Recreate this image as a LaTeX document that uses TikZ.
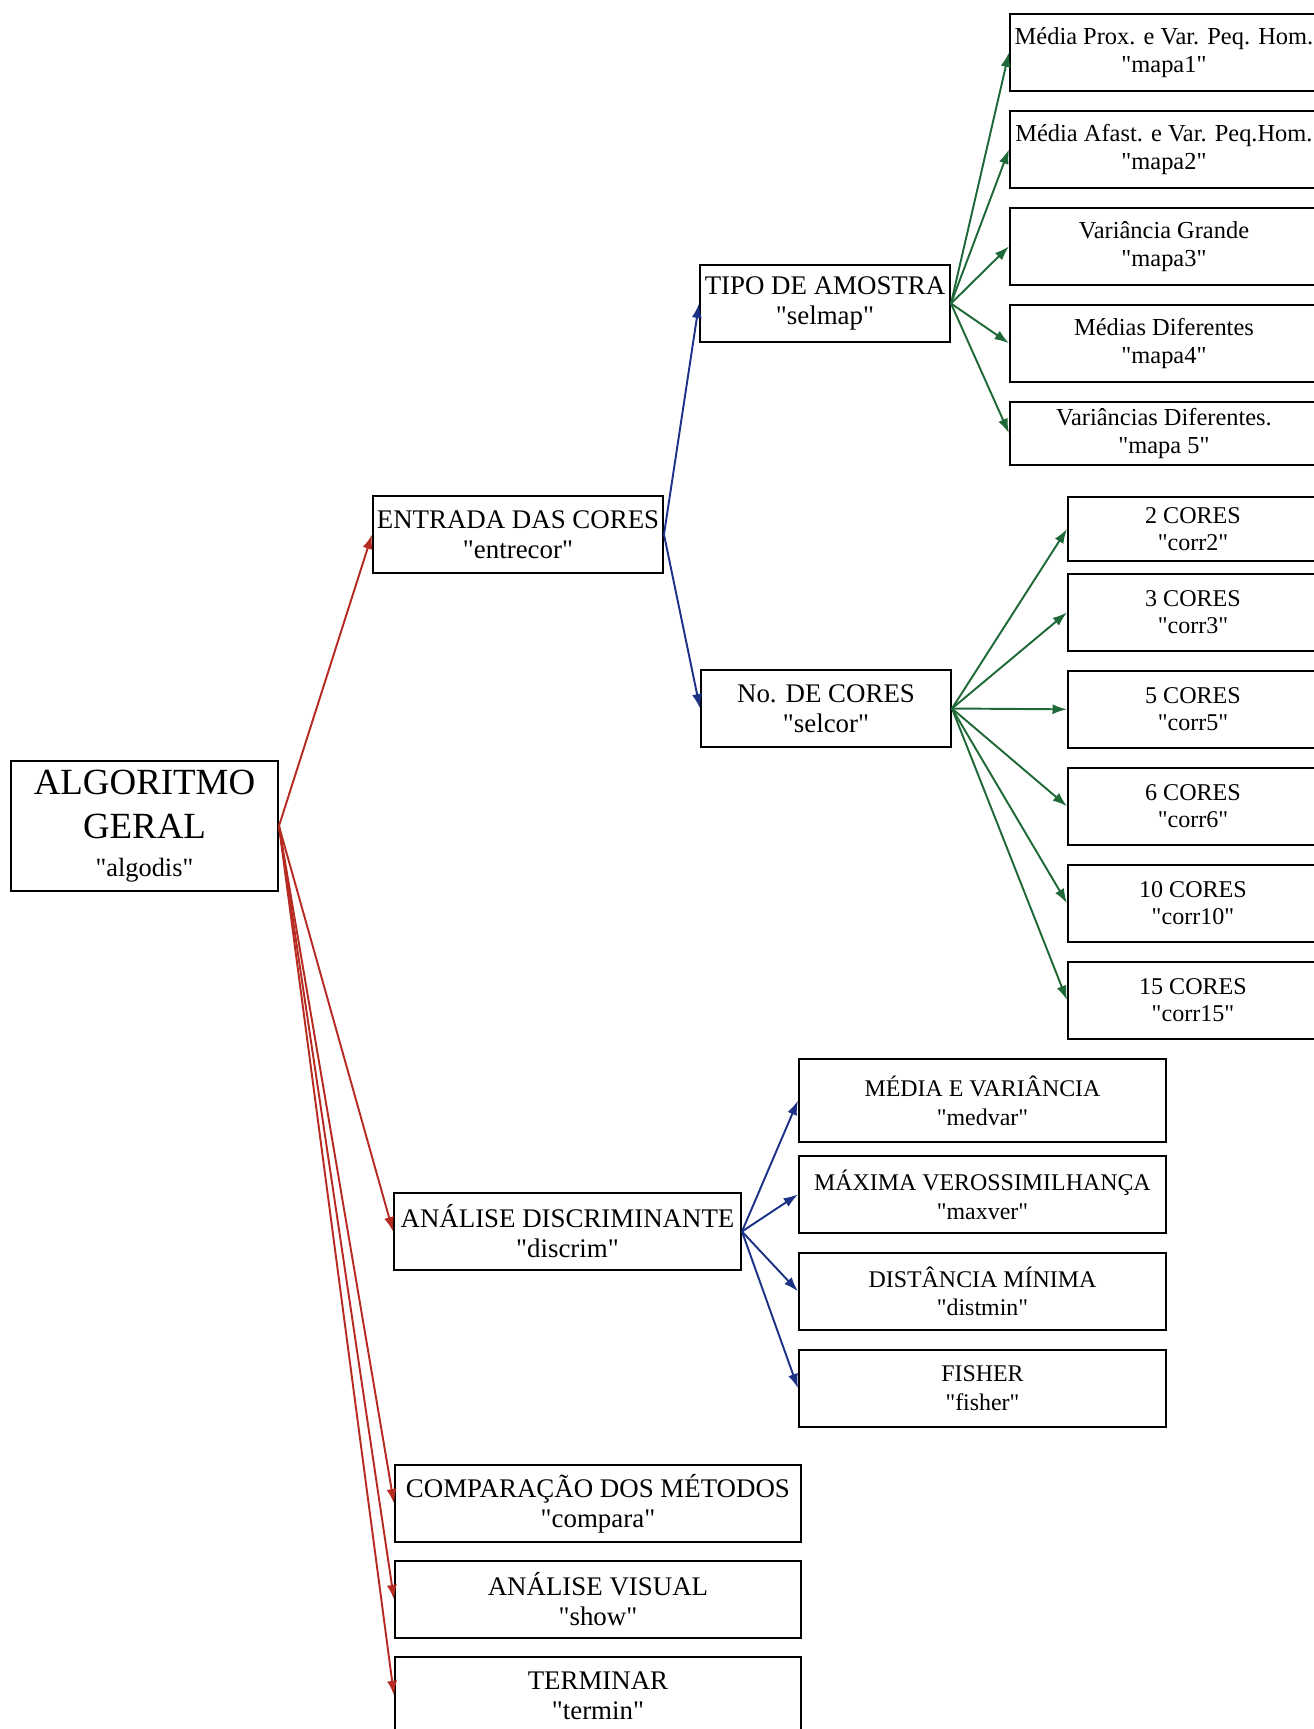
\documentclass[tikz,border=0pt]{standalone}
\usepackage{fontspec}
\setmainfont{Liberation Serif}[Ligatures=TeXOff]
\usetikzlibrary{arrows.meta,positioning}

\definecolor{arrred}{RGB}{182,42,34}
\definecolor{arrblue}{RGB}{28,50,135}
\definecolor{arrgreen}{RGB}{30,105,55}

\begin{document}
\begin{tikzpicture}[
  x=0.2mm, y=-0.2mm,
  node distance=3.6mm,
  box/.style={draw, line width=1.1pt, align=center, inner sep=1pt},
  lvl/.style={box, font=\fontsize{15.3}{17}\selectfont, minimum height=15.4mm},
  mapbox/.style={box, font=\fontsize{13.9}{16}\selectfont, minimum width=61.6mm, minimum height=15.4mm},
  corbox/.style={box, font=\fontsize{13.7}{15.5}\selectfont, minimum width=50mm, minimum height=15.4mm},
  metbox/.style={box, font=\fontsize{13.6}{16.5}\selectfont, minimum width=73.4mm, minimum height=15.4mm},
  tip/.style={-{Latex[length=2.9mm,width=2mm]}, line width=1.1pt},
  redarr/.style={tip, draw=arrred, fill=arrred},
  bluearr/.style={tip, draw=arrblue, fill=arrblue},
  greenarr/.style={tip, draw=arrgreen, fill=arrgreen}
]
  \useasboundingbox (0,0) rectangle (1313,1729);

  % raiz
  \node[box, minimum width=53.4mm, minimum height=26mm, font=\fontsize{21}{25}\selectfont]
    (algodis) at (144.5,826) {ALGORITMO\\GERAL\\[-3pt]\fontsize{15}{17}\selectfont"algodis"};

  % primeiro nivel
  \node[lvl, minimum width=58mm] (entrecor) at (518,534.5) {ENTRADA DAS CORES\\"entrecor"};
  \node[lvl, minimum width=69.4mm] (discrim) at (567.5,1231.5) {ANÁLISE DISCRIMINANTE\\"discrim"};
  \node[lvl, minimum width=81.2mm, anchor=north west] (compara) at (394,1464) {COMPARAÇÃO DOS MÉTODOS\\"compara"};
  \node[lvl, minimum width=81.2mm, below=3.4mm of compara] (show) {ANÁLISE VISUAL\\"show"};
  \node[lvl, minimum width=81.2mm, below=3.4mm of show] (termin) {TERMINAR\\"termin"};

  % entrada das cores
  \node[lvl, minimum width=50mm] (selmap) at (825,303.5) {TIPO DE AMOSTRA\\"selmap"};
  \node[lvl, minimum width=50mm] (selcor) at (826,708.5) {No. DE CORES\\"selcor"};

  % mapas
  \node[mapbox, anchor=north west] (mapa1) at (1009,13) {Média Prox. e Var. Peq. Hom.\\"mapa1"};
  \node[mapbox, below=of mapa1] (mapa2) {Média Afast. e Var. Peq.Hom.\\"mapa2"};
  \node[mapbox, below=of mapa2] (mapa3) {Variância Grande\\"mapa3"};
  \node[mapbox, below=of mapa3] (mapa4) {Médias Diferentes\\"mapa4"};
  \node[mapbox, below=of mapa4, minimum height=12.6mm] (mapa5) {Variâncias Diferentes.\\"mapa 5"};

  % cores
  \node[corbox, anchor=north west, minimum height=12.8mm] (corr2) at (1067,496) {2 CORES\\"corr2"};
  \node[corbox, below=2.2mm of corr2] (corr3) {3 CORES\\"corr3"};
  \node[corbox, below=of corr3] (corr5) {5 CORES\\"corr5"};
  \node[corbox, below=of corr5] (corr6) {6 CORES\\"corr6"};
  \node[corbox, below=of corr6] (corr10) {10 CORES\\"corr10"};
  \node[corbox, below=of corr10] (corr15) {15 CORES\\"corr15"};

  % metodos
  \node[metbox, anchor=north west, minimum height=16.6mm] (medvar) at (798,1058) {MÉDIA E VARIÂNCIA\\"medvar"};
  \node[metbox, below=2.4mm of medvar] (maxver) {MÁXIMA VEROSSIMILHANÇA\\"maxver"};
  \node[metbox, below=of maxver] (distmin) {DISTÂNCIA MÍNIMA\\"distmin"};
  \node[metbox, below=of distmin] (fisher) {FISHER\\"fisher"};

  \foreach \n in {entrecor,discrim,compara,show,termin}
    \draw[redarr] (algodis.east) -- (\n.west);
  \foreach \n in {selmap,selcor}
    \draw[bluearr] (entrecor.east) -- (\n.west);
  \foreach \n in {mapa1,mapa2,mapa3,mapa4,mapa5}
    \draw[greenarr] (selmap.east) -- (\n.west);
  \foreach \n in {corr2,corr3,corr5,corr6,corr10,corr15}
    \draw[greenarr] (selcor.east) -- (\n.west);
  \foreach \n in {medvar,maxver,distmin,fisher}
    \draw[bluearr] (discrim.east) -- (\n.west);
\end{tikzpicture}
\end{document}
